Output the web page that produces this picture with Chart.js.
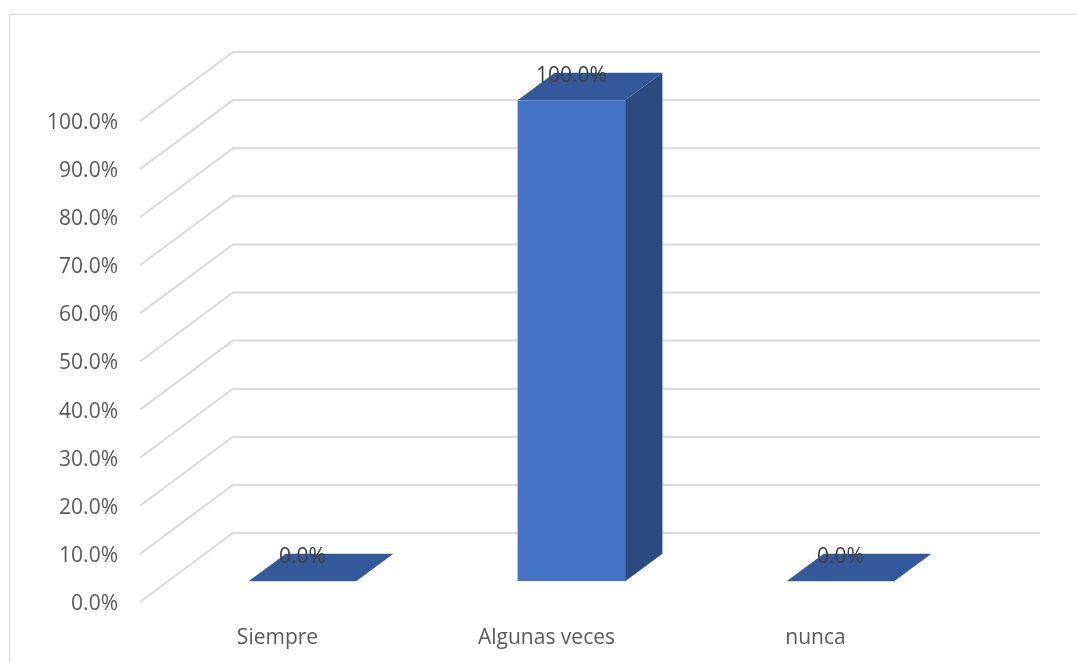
<!DOCTYPE html>
<html>
<head>
<meta charset="utf-8">
<script src="https://cdn.jsdelivr.net/npm/chart.js@4.4.0/dist/chart.umd.min.js"></script>
<style>
  html, body { margin: 0; padding: 0; background: #fff; }
  #wrap { position: relative; width: 1077px; height: 662px; }
  #frame {
    position: absolute; left: 9px; top: 14px; width: 1100px; height: 700px;
    border-left: 1.5px solid #d9d9d9; border-top: 1.5px solid #d9d9d9;
  }
  canvas { position: absolute; left: 0; top: 0; }
</style>
</head>
<body>
<div id="wrap">
  <div id="frame"></div>
  <canvas id="chart" width="1077" height="662"></canvas>
</div>
<script>
// chart data
const categories = ['Siempre', 'Algunas veces', 'nunca'];
const percentValues = [0.0, 100.0, 0.0];
const yTickStep = 10;
const yMax = 100;

// 3d look (Excel style): depth of the walls, and where the bars sit in it
const DEPTH_X = 93;
const DEPTH_Y = -69;
const BAR_FRONT = 0.3;  // fraction of depth in front of the bars
const BAR_DEPTH = 0.4;  // fraction of depth taken by the bars

const GRID_COLOR = '#d9d9d9';
const FRONT_COLOR = '#4472c4';
const TOP_COLOR = '#345899';
const SIDE_COLOR = '#2b4a80';
const FONT = '"Open Sans", "Liberation Sans", sans-serif';

function pct(v) {
    return Number(v).toFixed(1) + '%';
}

const walls3d = {
    id: 'walls3d',
    beforeDatasetsDraw(chart) {
        const ctx = chart.ctx;
        const area = chart.chartArea;
        const yScale = chart.scales.y;
        ctx.save();
        ctx.strokeStyle = GRID_COLOR;
        ctx.lineWidth = 2;
        yScale.ticks.forEach(t => {
            const yf = yScale.getPixelForValue(t.value);
            ctx.beginPath();
            ctx.moveTo(area.left, yf);
            ctx.lineTo(area.left + DEPTH_X, yf + DEPTH_Y);
            ctx.lineTo(area.right + DEPTH_X, yf + DEPTH_Y);
            ctx.stroke();
        });
        ctx.restore();
    },
    beforeDatasetDraw(chart) {
        // push the front faces back into the middle of the depth
        chart.ctx.save();
        chart.ctx.translate(DEPTH_X * BAR_FRONT, DEPTH_Y * BAR_FRONT);
    },
    afterDatasetDraw(chart, args) {
        const ctx = chart.ctx;
        const dx = DEPTH_X * BAR_DEPTH;
        const dy = DEPTH_Y * BAR_DEPTH;
        args.meta.data.forEach(bar => {
            const p = bar.getProps(['x', 'y', 'base', 'width'], true);
            const l = p.x - p.width / 2;
            const r = p.x + p.width / 2;
            // side face
            if (p.base - p.y > 0.5) {
                ctx.fillStyle = SIDE_COLOR;
                ctx.beginPath();
                ctx.moveTo(r, p.y);
                ctx.lineTo(r + dx, p.y + dy);
                ctx.lineTo(r + dx, p.base + dy);
                ctx.lineTo(r, p.base);
                ctx.closePath();
                ctx.fill();
            }
            // top face
            ctx.fillStyle = TOP_COLOR;
            ctx.beginPath();
            ctx.moveTo(l, p.y);
            ctx.lineTo(l + dx, p.y + dy);
            ctx.lineTo(r + dx, p.y + dy);
            ctx.lineTo(r, p.y);
            ctx.closePath();
            ctx.fill();
        });
        ctx.restore();
    },
    afterDatasetsDraw(chart) {
        const ctx = chart.ctx;
        const meta = chart.getDatasetMeta(0);
        ctx.save();
        ctx.font = '21px ' + FONT;
        ctx.fillStyle = '#404040';
        ctx.textAlign = 'center';
        ctx.textBaseline = 'middle';
        meta.data.forEach((bar, i) => {
            const x = bar.x + DEPTH_X * BAR_FRONT;
            const y = bar.y + DEPTH_Y * BAR_FRONT - 24;
            ctx.fillText(pct(percentValues[i]), x, y);
        });
        ctx.restore();
    }
};

new Chart(document.getElementById('chart'), {
    type: 'bar',
    data: {
        labels: categories,
        datasets: [{
            data: percentValues,
            backgroundColor: FRONT_COLOR,
            borderWidth: 0,
            barPercentage: 0.4,
            categoryPercentage: 1.0
        }]
    },
    options: {
        responsive: false,
        animation: false,
        events: [],
        layout: { padding: { left: 0, right: 130, top: 121, bottom: 0 } },
        plugins: { legend: { display: false }, tooltip: { enabled: false } },
        scales: {
            x: {
                grid: { display: false },
                border: { display: false },
                ticks: { color: '#595959', font: { family: FONT, size: 21 }, padding: 15, labelOffset: 3, maxRotation: 0 },
                afterFit: s => { s.height = 60; }
            },
            y: {
                min: 0,
                max: yMax,
                grid: { display: false },
                border: { display: false },
                ticks: {
                    stepSize: yTickStep,
                    color: '#595959',
                    font: { family: FONT, size: 21 },
                    padding: 14,
                    labelOffset: 2,
                    callback: v => pct(v)
                },
                afterFit: s => { s.width = 140; }
            }
        }
    },
    plugins: [walls3d]
});
</script>
</body>
</html>
